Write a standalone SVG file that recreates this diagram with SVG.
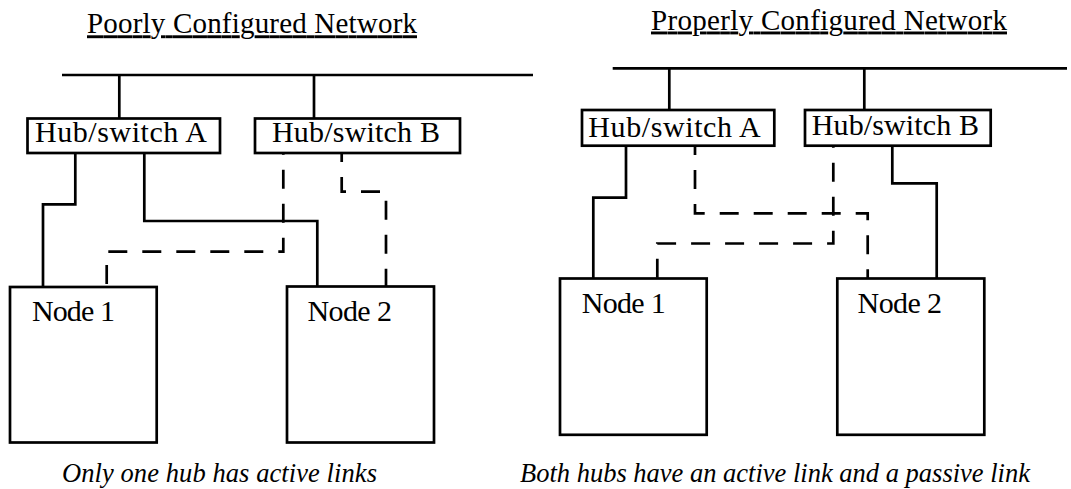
<svg xmlns="http://www.w3.org/2000/svg" width="1071" height="489" viewBox="0 0 1071 489">
<style>
  text { font-family: "Liberation Serif", "Times New Roman", serif; fill: #000; }
  .title { font-size: 29px; text-decoration: underline; }
  .lbl { font-size: 30px; }
  .cap { font-size: 26.5px; font-style: italic; }
  .box { fill: #fff; stroke: #000; stroke-width: 2.7; }
  .solid { fill: none; stroke: #000; stroke-width: 2.7; }
  .dash { fill: none; stroke: #000; stroke-width: 2.7; stroke-dasharray: 19 15; stroke-dashoffset: 10; }
</style>
<rect x="0" y="0" width="1071" height="489" fill="#fff"/>

<!-- Left panel -->
<text id="title-left" class="title" x="87" y="33.3" textLength="330" lengthAdjust="spacing">Poorly Configured Network</text>

<g id="connectors-left">
  <line class="solid" x1="62" y1="75" x2="533" y2="75"/>
  <line class="solid" x1="119.3" y1="75" x2="119.3" y2="118.5"/>
  <line class="solid" x1="314" y1="75" x2="314" y2="118.5"/>
  <path class="solid" d="M75.3,153 V204.3 H43 V287"/>
  <path class="solid" d="M144.3,153 V221 H317.3 V286"/>
  <path class="dash" d="M276.5,152.5 H283.3 V251.7 H106.7 V287"/>
  <path class="dash" d="M341.7,153 V191.7 H386 V286"/>
</g>

<g id="hubA-left">
  <rect class="box" x="27.5" y="118.5" width="192.5" height="34.5"/>
  <text class="lbl" x="35" y="142.3" textLength="172" lengthAdjust="spacing">Hub/switch A</text>
</g>
<g id="hubB-left">
  <rect class="box" x="255" y="118.5" width="205" height="34.5"/>
  <text class="lbl" x="272" y="142.3" textLength="168" lengthAdjust="spacing">Hub/switch B</text>
</g>
<g id="node1-left">
  <rect class="box" x="10" y="287" width="146.7" height="155.5"/>
  <text class="lbl" x="32" y="321" textLength="83" lengthAdjust="spacing">Node 1</text>
</g>
<g id="node2-left">
  <rect class="box" x="287" y="286.5" width="147" height="156"/>
  <text class="lbl" x="307.5" y="321" textLength="84.5" lengthAdjust="spacing">Node 2</text>
</g>

<text id="caption-left" class="cap" x="62" y="482" textLength="315" lengthAdjust="spacing">Only one hub has active links</text>

<!-- Right panel -->
<text id="title-right" class="title" x="651" y="29.5" textLength="356" lengthAdjust="spacing">Properly Configured Network</text>

<g id="connectors-right">
  <line class="solid" x1="612.7" y1="68.3" x2="1067" y2="68.3"/>
  <line class="solid" x1="669.3" y1="68.3" x2="669.3" y2="110"/>
  <line class="solid" x1="864.3" y1="68.3" x2="864.3" y2="110"/>
  <path class="solid" d="M626,146 V197.7 H593.3 V278.5"/>
  <path class="solid" d="M892.3,146 V183.3 H936.7 V278.5"/>
  <path class="dash" d="M695,146 V213.3 H867.7 V278.5"/>
  <path class="dash" d="M826.5,145.5 H833.3 V243.5 H657.3 V278.5"/>
</g>

<g id="hubA-right">
  <rect class="box" x="582" y="110" width="192.3" height="35.7"/>
  <text class="lbl" x="588.3" y="136.7" textLength="172.4" lengthAdjust="spacing">Hub/switch A</text>
</g>
<g id="hubB-right">
  <rect class="box" x="805" y="110" width="185.7" height="35.7"/>
  <text class="lbl" x="811.7" y="135" textLength="167.3" lengthAdjust="spacing">Hub/switch B</text>
</g>
<g id="node1-right">
  <rect class="box" x="560" y="278.5" width="146.7" height="156.3"/>
  <text class="lbl" x="581.7" y="313" textLength="84" lengthAdjust="spacing">Node 1</text>
</g>
<g id="node2-right">
  <rect class="box" x="837.3" y="278.5" width="147" height="156.3"/>
  <text class="lbl" x="857.6" y="313" textLength="84.4" lengthAdjust="spacing">Node 2</text>
</g>

<text id="caption-right" class="cap" x="520" y="482" textLength="510" lengthAdjust="spacing">Both hubs have an active link and a passive link</text>
</svg>
